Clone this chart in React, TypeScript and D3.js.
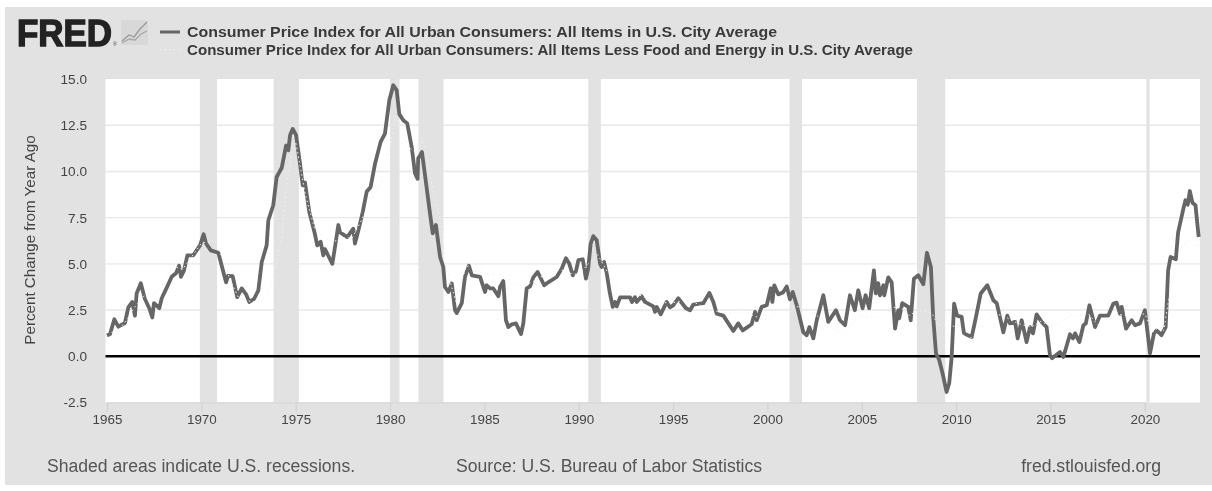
import * as d3 from 'd3'
import { useEffect, useRef } from 'react'

const xTicks = [1965, 1970, 1975, 1980, 1985, 1990, 1995, 2000, 2005, 2010, 2015, 2020]
const yTicks = [-2.5, 0, 2.5, 5, 7.5, 10, 12.5, 15]

// NBER recessions, start and end as decimal years
const recessionStarts = [1969.92, 1973.83, 1980.0, 1981.5, 1990.5, 2001.17, 2007.92, 2020.08]
const recessionEnds = [1970.83, 1975.17, 1980.5, 1982.83, 1991.17, 2001.83, 2009.42, 2020.25]

const allItemsYears = [
  1965.0, 1965.16, 1965.39, 1965.6, 1965.95, 1966.13, 1966.34, 1966.48, 1966.57, 1966.79, 1967.01, 1967.24, 1967.4, 1967.49, 1967.77, 1967.9,
  1968.16, 1968.43, 1968.66, 1968.82, 1968.92, 1969.08, 1969.26, 1969.57, 1969.93, 1970.12, 1970.25, 1970.5, 1970.9, 1971.08, 1971.31, 1971.41,
  1971.66, 1971.9, 1972.14, 1972.37, 1972.54, 1972.79, 1973.02, 1973.2, 1973.46, 1973.55, 1973.81, 1973.99, 1974.26, 1974.49, 1974.61, 1974.7,
  1974.84, 1975.02, 1975.23, 1975.37, 1975.49, 1975.72, 1976.02, 1976.14, 1976.32, 1976.46, 1976.55, 1976.76, 1976.94, 1977.08, 1977.26, 1977.35,
  1977.73, 1978.05, 1978.14, 1978.32, 1978.55, 1978.76, 1978.97, 1979.2, 1979.5, 1979.73, 1979.96, 1980.17, 1980.35, 1980.49, 1980.7, 1980.91,
  1981.15, 1981.32, 1981.46, 1981.49, 1981.69, 1981.89, 1982.12, 1982.26, 1982.43, 1982.65, 1982.82, 1982.91, 1983.09, 1983.27, 1983.44, 1983.53,
  1983.8, 1983.97, 1984.18, 1984.33, 1984.77, 1985.03, 1985.12, 1985.3, 1985.47, 1985.74, 1985.83, 1986.0, 1986.14, 1986.27, 1986.45, 1986.67,
  1986.94, 1987.06, 1987.24, 1987.42, 1987.59, 1987.82, 1988.17, 1988.38, 1988.83, 1989.1, 1989.32, 1989.5, 1989.68, 1989.85, 1989.98, 1990.21,
  1990.38, 1990.5, 1990.63, 1990.77, 1990.95, 1991.13, 1991.21, 1991.34, 1991.48, 1991.65, 1991.8, 1991.92, 1992.01, 1992.19, 1992.72, 1992.82,
  1992.98, 1993.07, 1993.33, 1993.51, 1993.95, 1994.04, 1994.13, 1994.34, 1994.66, 1994.83, 1995.01, 1995.27, 1995.68, 1995.9, 1996.07, 1996.6,
  1996.92, 1997.13, 1997.31, 1997.66, 1998.19, 1998.45, 1998.69, 1999.16, 1999.34, 1999.43, 1999.69, 1999.96, 2000.17, 2000.26, 2000.36, 2000.57,
  2000.82, 2001.02, 2001.19, 2001.34, 2001.55, 2001.9, 2002.08, 2002.22, 2002.43, 2002.61, 2002.96, 2003.22, 2003.63, 2003.84, 2004.11, 2004.37,
  2004.63, 2004.81, 2005.04, 2005.2, 2005.39, 2005.64, 2005.74, 2005.87, 2005.96, 2006.14, 2006.19, 2006.4, 2006.58, 2006.76, 2006.93, 2006.98,
  2007.14, 2007.46, 2007.59, 2007.76, 2007.99, 2008.26, 2008.45, 2008.66, 2008.78, 2008.93, 2009.1, 2009.28, 2009.49, 2009.63, 2009.76, 2009.89,
  2010.05, 2010.29, 2010.41, 2010.82, 2011.05, 2011.3, 2011.65, 2011.97, 2012.15, 2012.5, 2012.71, 2012.85, 2013.12, 2013.26, 2013.47, 2013.73,
  2013.91, 2014.07, 2014.26, 2014.53, 2014.79, 2014.97, 2015.08, 2015.5, 2015.68, 2016.03, 2016.19, 2016.3, 2016.53, 2016.74, 2016.87, 2017.06,
  2017.36, 2017.62, 2018.06, 2018.33, 2018.5, 2018.68, 2018.77, 2019.0, 2019.3, 2019.48, 2019.74, 2020.0, 2020.27, 2020.48, 2020.62, 2020.88,
  2021.1, 2021.23, 2021.36, 2021.64, 2021.76, 2022.06, 2022.15, 2022.27, 2022.38, 2022.52, 2022.68, 2022.85,
]
const allItemsValues = [
  1.13, 1.2, 2.0, 1.6, 1.8, 2.65, 2.94, 2.2, 3.4, 3.95, 3.1, 2.6, 2.1, 2.87, 2.6, 3.14,
  3.7, 4.3, 4.5, 4.9, 4.3, 4.65, 5.46, 5.46, 6.0, 6.6, 6.1, 5.73, 5.6, 4.9, 4.0, 4.35,
  4.33, 3.2, 3.67, 3.35, 2.94, 3.1, 3.57, 5.1, 6.0, 7.36, 8.17, 9.7, 10.2, 11.4, 11.15, 11.96,
  12.3, 11.96, 10.4, 9.25, 9.4, 7.8, 6.6, 6.0, 6.2, 5.46, 5.8, 5.37, 5.0, 5.9, 7.1, 6.7,
  6.45, 6.9, 6.1, 6.8, 7.8, 8.9, 9.16, 10.4, 11.6, 12.05, 13.85, 14.66, 14.4, 13.1, 12.77, 12.6,
  11.3, 9.9, 9.6, 10.7, 11.05, 9.5, 7.7, 6.65, 7.1, 5.37, 4.83, 3.75, 3.48, 3.94, 2.5, 2.34,
  2.87, 4.3, 4.9, 4.38, 4.3, 3.48, 3.84, 3.67, 3.67, 3.25, 3.75, 4.07, 1.95, 1.58, 1.73, 1.78,
  1.2, 1.78, 3.67, 3.78, 4.27, 4.56, 3.84, 4.0, 4.29, 4.75, 5.3, 5.0, 4.38, 4.6, 5.2, 5.25,
  4.2, 4.75, 6.1, 6.5, 6.28, 5.0, 4.83, 5.1, 4.5, 3.4, 2.67, 2.94, 2.7, 3.19, 3.19, 2.94,
  3.2, 2.94, 3.25, 2.94, 2.7, 2.4, 2.67, 2.27, 2.94, 2.65, 2.76, 3.14, 2.6, 2.49, 2.8, 2.87,
  3.43, 2.94, 2.3, 2.2, 1.37, 1.78, 1.4, 1.73, 2.4, 1.95, 2.67, 2.76, 3.67, 2.94, 3.84, 3.35,
  3.45, 3.78, 3.08, 3.48, 2.76, 1.3, 1.14, 1.58, 0.97, 1.95, 3.3, 1.86, 2.49, 1.95, 1.68, 3.3,
  2.49, 3.57, 2.6, 3.3, 2.6, 4.65, 3.4, 3.95, 3.3, 3.84, 3.3, 4.27, 4.0, 1.5, 2.49, 2.05,
  2.87, 2.67, 1.95, 4.2, 4.38, 3.9, 5.6, 4.83, 2.13, 0.16, -0.2, -0.93, -1.93, -1.46, -0.04, 2.85,
  2.2, 2.13, 1.24, 1.04, 2.13, 3.4, 3.84, 3.03, 2.87, 1.3, 2.2, 1.78, 1.86, 0.97, 1.95, 0.77,
  1.58, 1.24, 2.27, 1.86, 1.58, 0.05, -0.1, 0.23, -0.04, 1.19, 0.97, 1.24, 0.77, 1.68, 1.78, 2.76,
  1.58, 2.2, 2.2, 2.85, 2.9, 2.3, 2.67, 1.5, 1.95, 1.68, 1.78, 2.49, 0.16, 1.24, 1.4, 1.14,
  1.58, 4.65, 5.37, 5.25, 6.7, 8.08, 8.44, 8.2, 8.94, 8.3, 8.17, 6.45,
]

const coreYears = [
  1965.0, 1965.5, 1966.0, 1966.5, 1967.0, 1967.5, 1968.0, 1968.5, 1969.0, 1969.5, 1970.0, 1970.7, 1971.0, 1971.5, 1972.0, 1972.5,
  1973.0, 1973.5, 1973.9, 1974.26, 1974.5, 1974.8, 1975.0, 1975.5, 1976.0, 1976.5, 1977.0, 1977.5, 1978.0, 1978.5, 1979.0, 1979.5,
  1980.0, 1980.3, 1980.5, 1981.0, 1981.5, 1981.7, 1982.0, 1982.3, 1982.6, 1983.0, 1983.5, 1984.0, 1984.5, 1985.0, 1985.5, 1986.0,
  1986.5, 1987.0, 1987.5, 1988.0, 1988.5, 1989.0, 1989.5, 1990.0, 1990.5, 1991.0, 1991.5, 1992.0, 1992.5, 1993.0, 1993.5, 1994.0,
  1994.5, 1995.0, 1995.5, 1996.0, 1996.5, 1997.0, 1997.5, 1998.0, 1998.5, 1999.0, 1999.5, 2000.0, 2000.5, 2001.0, 2001.5, 2002.0,
  2002.5, 2003.0, 2003.5, 2004.0, 2004.5, 2005.0, 2005.5, 2006.0, 2006.5, 2007.0, 2007.5, 2008.0, 2008.5, 2008.8, 2009.0, 2009.5,
  2010.0, 2010.5, 2011.0, 2011.5, 2012.0, 2012.5, 2013.0, 2013.5, 2014.0, 2014.5, 2015.0, 2015.5, 2016.0, 2016.5, 2017.0, 2017.5,
  2018.0, 2018.5, 2019.0, 2019.5, 2020.0, 2020.4, 2020.8, 2021.0, 2021.25, 2021.5, 2022.0, 2022.25, 2022.7, 2022.85,
]
const coreValues = [
  1.3, 1.3, 1.9, 2.7, 3.3, 3.4, 3.9, 4.9, 4.7, 5.4, 6.1, 6.3, 5.6, 4.2, 3.1, 3.0,
  2.9, 3.2, 4.76, 6.45, 9.16, 11.0, 11.6, 8.8, 6.9, 6.4, 6.2, 6.4, 6.4, 7.4, 8.5, 9.4,
  11.3, 13.0, 12.3, 11.3, 10.9, 11.8, 10.5, 8.8, 7.7, 4.7, 2.9, 4.8, 5.1, 4.5, 4.4, 4.4,
  4.0, 3.8, 4.0, 4.3, 4.5, 4.7, 4.5, 4.4, 5.0, 5.5, 4.6, 3.9, 3.4, 3.4, 3.2, 2.9,
  2.9, 2.9, 3.0, 3.0, 2.7, 2.5, 2.4, 2.3, 2.4, 2.3, 2.1, 2.0, 2.4, 2.6, 2.7, 2.6,
  2.3, 1.9, 1.5, 1.2, 1.8, 2.2, 2.1, 2.1, 2.6, 2.7, 2.2, 2.5, 2.4, 2.2, 1.7, 1.7,
  1.6, 1.0, 1.0, 1.7, 2.3, 2.2, 1.9, 1.7, 1.6, 1.9, 1.6, 1.8, 2.2, 2.2, 2.3, 1.7,
  1.8, 2.3, 2.2, 2.2, 2.3, 1.3, 1.6, 1.4, 3.0, 4.3, 6.0, 6.2, 6.5, 6.0,
]

const legendLabels = [
  'Consumer Price Index for All Urban Consumers: All Items in U.S. City Average',
  'Consumer Price Index for All Urban Consumers: All Items Less Food and Energy in U.S. City Average',
]

const SANS = '"Liberation Sans", Arial, sans-serif'

function drawChart(node: SVGSVGElement) {
  const svg = d3.select(node)
  svg.selectAll('*').remove()

  const x = d3.scaleLinear().domain([1965, 2020]).range([107, 1144.9])
  const y = d3.scaleLinear().domain([-2.5, 15]).range([402.5, 79])
  const plotLeft = 105.5
  const plotRight = 1200

  // grey card behind everything
  svg.append('rect').attr('x', 5).attr('y', 7).attr('width', 1207).attr('height', 478).attr('fill', '#e2e2e2')
  svg.append('rect').attr('x', plotLeft).attr('y', y(15)).attr('width', plotRight - plotLeft)
    .attr('height', y(-2.5) - y(15)).attr('fill', '#fff')

  // gridlines
  svg.append('g').selectAll('line').data(yTicks.filter(d => d > -2.5 && d < 15)).join('line')
    .attr('x1', plotLeft).attr('x2', plotRight)
    .attr('y1', d => y(d)).attr('y2', d => y(d))
    .attr('stroke', '#e8e8e8').attr('stroke-width', 1.4)

  // recessions
  svg.append('g').selectAll('rect').data(recessionStarts).join('rect')
    .attr('x', d => x(d))
    .attr('width', (d, i) => x(recessionEnds[i]) - x(d))
    .attr('y', y(15)).attr('height', y(-2.5) - y(15))
    .attr('fill', '#e2e2e2')

  // axes
  const xAxis = svg.append('g').attr('transform', `translate(0,${y(-2.5)})`)
    .call(d3.axisBottom(x).tickValues(xTicks).tickFormat(d3.format('d')).tickSize(9).tickPadding(3))
  xAxis.select('.domain').attr('stroke', '#d8d8d8').attr('stroke-width', 1.4)
  xAxis.selectAll('.tick line').attr('stroke', '#d0d0d0')
  xAxis.selectAll('text').attr('font-family', SANS).attr('font-size', 13.4).attr('fill', '#444')

  // FRED prints a plain hyphen on -2.5
  const yLabel = (d: d3.NumberValue) => d3.format('.1f')(d).replace('−', '-')
  const yAxis = svg.append('g').attr('transform', 'translate(87,0)')
    .call(d3.axisLeft(y).tickValues(yTicks).tickFormat(yLabel).tickSize(0).tickPadding(0))
  yAxis.select('.domain').remove()
  yAxis.selectAll('text').attr('font-family', SANS).attr('font-size', 13.6).attr('fill', '#444')

  svg.append('text').attr('transform', 'translate(35,240) rotate(-90)')
    .attr('text-anchor', 'middle').attr('font-family', SANS).attr('font-size', 15.2).attr('fill', '#444')
    .text('Percent Change from Year Ago')

  // zero line
  svg.append('line').attr('x1', plotLeft).attr('x2', plotRight)
    .attr('y1', y(0)).attr('y2', y(0)).attr('stroke', '#000').attr('stroke-width', 2.4)

  // series
  const lineGen = (xs: number[]) => d3.line<number>().x((_, i) => x(xs[i])).y(d => y(d))
  svg.append('path').attr('d', lineGen(allItemsYears)(allItemsValues))
    .attr('fill', 'none').attr('stroke', '#666').attr('stroke-width', 3.8).attr('stroke-linejoin', 'round')
  svg.append('path').attr('d', lineGen(coreYears)(coreValues))
    .attr('fill', 'none').attr('stroke', '#f3f3f3').attr('stroke-width', 1).attr('stroke-dasharray', '1.5 3')

  // logo
  svg.append('text').attr('x', 17).attr('y', 46).attr('font-family', SANS).attr('font-weight', 700)
    .attr('font-size', 36).attr('textLength', 95).attr('lengthAdjust', 'spacingAndGlyphs')
    .attr('stroke', '#222').attr('stroke-width', 1.4).attr('fill', '#222').text('FRED')
  svg.append('text').attr('x', 113).attr('y', 46).attr('font-family', SANS).attr('font-size', 5).attr('fill', '#444').text('®')
  svg.append('rect').attr('x', 121).attr('y', 20).attr('width', 27).attr('height', 25).attr('rx', 2).attr('fill', '#d8d8d8')
  const iconLine = d3.line()
  svg.append('path').attr('d', iconLine([[122, 41], [129, 35], [134, 37], [140, 29], [147, 22]]))
    .attr('fill', 'none').attr('stroke', '#9a9a9a').attr('stroke-width', 1.3)
  svg.append('path').attr('d', iconLine([[122, 43], [129, 39], [135, 40], [141, 34], [147, 31]]))
    .attr('fill', 'none').attr('stroke', '#a8a8a8').attr('stroke-width', 1.3)

  // legend
  const legendWidths = [590, 726]
  svg.append('line').attr('x1', 160).attr('x2', 180).attr('y1', 32).attr('y2', 32)
    .attr('stroke', '#666').attr('stroke-width', 3)
  svg.append('line').attr('x1', 160).attr('x2', 180).attr('y1', 49.5).attr('y2', 49.5)
    .attr('stroke', '#f3f3f3').attr('stroke-width', 1).attr('stroke-dasharray', '1.5 3')
  svg.append('g').selectAll('text').data(legendLabels).join('text')
    .attr('x', 187).attr('y', (_, i) => 37 + i * 17.5)
    .attr('font-family', SANS).attr('font-weight', 700).attr('font-size', 14.5).attr('fill', '#3a3a3a')
    .attr('textLength', (_, i) => legendWidths[i]).attr('lengthAdjust', 'spacingAndGlyphs')
    .text(d => d)

  // footer
  const footer = svg.append('g').attr('font-family', SANS).attr('font-size', 17.6).attr('fill', '#555')
  footer.append('text').attr('x', 47).attr('y', 472).text('Shaded areas indicate U.S. recessions.')
  footer.append('text').attr('x', 456).attr('y', 472).text('Source: U.S. Bureau of Labor Statistics')
  footer.append('text').attr('x', 1161).attr('y', 472).attr('text-anchor', 'end').text('fred.stlouisfed.org')
}

export default function App() {
  const ref = useRef<SVGSVGElement>(null)
  useEffect(() => {
    if (ref.current) drawChart(ref.current)
  }, [])
  return (
    <svg ref={ref} width={1212} height={491}
      style={{ position: 'absolute', left: 0, top: 0, display: 'block', background: '#fff', filter: 'blur(0.45px)' }} />
  )
}
